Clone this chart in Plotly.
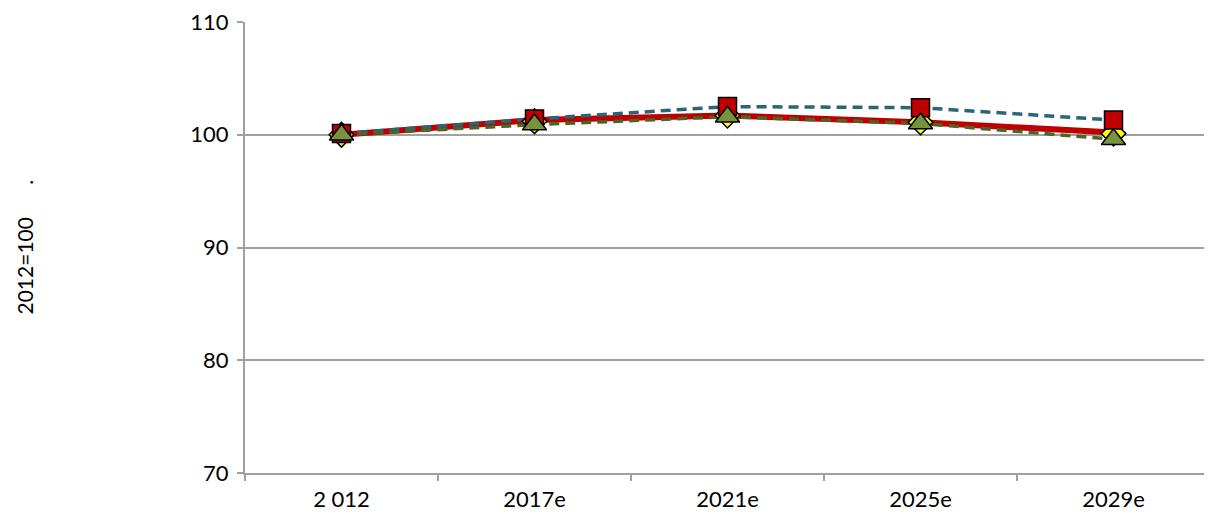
import plotly.graph_objects as go

categories = ["2 012", "2017e", "2021e", "2025e", "2029e"]
red_line = [100.0, 101.3, 101.7, 101.1, 100.2]
blue_squares = [100.1, 101.4, 102.5, 102.4, 101.3]
yellow_diamonds = [100.0, 101.2, 101.7, 101.1, 100.1]
green_triangles = [100.0, 100.9, 101.6, 101.0, 99.6]
y_ticks = [70, 80, 90, 100, 110]

FONT = "Lato, Open Sans, sans-serif"
fig = go.Figure()

fig.add_trace(go.Scatter(x=categories, y=red_line, mode="lines",
                         line=dict(color="#C00000", width=6), showlegend=False))
fig.add_trace(go.Scatter(x=categories, y=blue_squares, mode="lines",
                         line=dict(color="#2A6478", width=3.5, dash="10px,6px"), showlegend=False))
fig.add_trace(go.Scatter(x=categories, y=green_triangles, mode="lines",
                         line=dict(color="#4F6228", width=3.5, dash="10px,6px"), showlegend=False))
fig.add_trace(go.Scatter(x=categories, y=yellow_diamonds, mode="markers",
                         marker=dict(symbol="diamond", size=19, color="#FFFF00",
                                     line=dict(color="black", width=1.5)), showlegend=False))
fig.add_trace(go.Scatter(x=categories, y=blue_squares, mode="markers",
                         marker=dict(symbol="square", size=18, color="#C00000",
                                     line=dict(color="black", width=1.5)), showlegend=False))
fig.add_trace(go.Scatter(x=categories, y=green_triangles, mode="markers",
                         marker=dict(symbol="triangle-up", size=21, color="#77933C",
                                     line=dict(color="black", width=1.5)), showlegend=False))

fig.update_layout(
    width=1204, height=519,
    margin=dict(l=237, r=2, t=14, b=54),
    plot_bgcolor="white", paper_bgcolor="white",
    font=dict(family=FONT, size=22, color="black"),
    xaxis=dict(type="category", showgrid=False, showline=True, linecolor="#A0A0A0",
               linewidth=2, ticks="outside", tickson="boundaries", ticklen=6,
               tickcolor="#A0A0A0", tickwidth=2, tickfont=dict(size=22),
               ticklabelstandoff=6, range=[-0.5, 4.5], automargin=False),
    yaxis=dict(range=[70, 110], tickvals=y_ticks, showgrid=True, gridcolor="#A0A0A0",
               gridwidth=1.5, showline=True, linecolor="#A0A0A0", linewidth=2,
               ticks="outside", ticklen=6, tickcolor="#A0A0A0", tickwidth=2,
               tickfont=dict(size=22), ticklabelstandoff=4, zeroline=False,
               ticklabeloverflow="allow", automargin=False),
    annotations=[dict(text="2012=100      .", xref="paper", yref="paper",
                      x=-221 / 965, y=0.5, xanchor="center", yanchor="middle",
                      textangle=-90, showarrow=False, font=dict(size=21))],
)

fig.write_html("out.html")
